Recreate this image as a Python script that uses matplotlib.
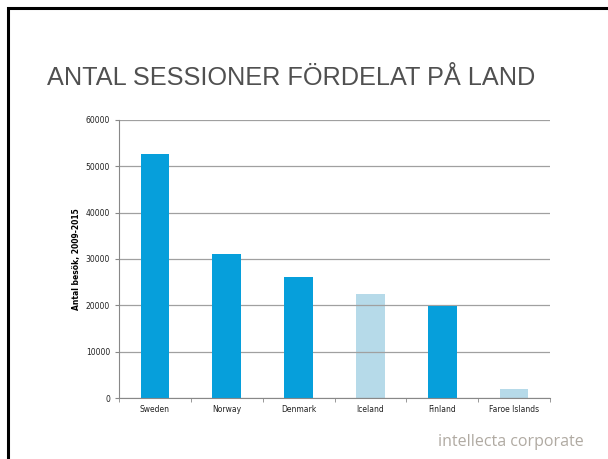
import matplotlib.pyplot as plt
import numpy as np
from matplotlib.patches import Rectangle

countries = ['Sweden', 'Norway', 'Denmark', 'Iceland', 'Finland', 'Faroe Islands']
sessions = [52600, 31000, 26100, 22500, 19900, 2000]
light = [False, False, False, True, False, True]

dark_blue = '#069fdb'
light_blue = '#a9d4e6'

fig = plt.figure(figsize=(6.08, 4.59), dpi=100)

# slide frame (right/bottom edges run off the picture)
fig.patches.append(Rectangle((8 / 608, -0.1), 1.2, (459 - 8) / 459 + 0.1,
                             transform=fig.transFigure, fill=False,
                             edgecolor='black', linewidth=2.2))

ax = fig.add_axes([119 / 608, 1 - 398 / 459, (550 - 119) / 608, (398 - 120) / 459])

x = np.arange(len(countries))
colors = [light_blue if l else dark_blue for l in light]
ax.set_axisbelow(True)
ax.yaxis.grid(True, color='#a0a0a0', linewidth=0.9)
bars = ax.bar(x, sessions, width=0.4, color=colors, zorder=2)
for b, l in zip(bars, light):
    if l:
        b.set_alpha(0.85)
        b.set_zorder(0.5)

ax.set_xlim(-0.5, len(countries) - 0.5)
ax.set_ylim(0, 60000)
ax.set_yticks(np.arange(0, 60001, 10000))
ax.set_xticks(x)
ax.set_xticklabels(countries, fontsize=5.5, color='#222222')
ax.set_xticks(np.arange(-0.5, len(countries)), minor=True)
ax.tick_params(axis='x', which='major', length=0, pad=5)
ax.tick_params(axis='x', which='minor', length=3, color='#888888', direction='out')
ax.tick_params(axis='y', labelsize=5.5, length=3, color='#888888', labelcolor='#222222')

for s in ['top', 'right']:
    ax.spines[s].set_visible(False)
ax.spines['left'].set_color('#888888')
ax.spines['bottom'].set_color('#888888')

ax.set_ylabel('Antal besök, 2009-2015', fontsize=5.5, fontweight='bold', labelpad=3)

fig.text(47 / 608, 1 - 78 / 459, 'ANTAL SESSIONER FÖRDELAT PÅ LAND',
         fontsize=18.2, color='#505050', va='center', ha='left', family='Liberation Sans')
fig.text(584 / 608, 1 - 442 / 459, 'intellecta corporate', fontsize=11.5,
         color='#b0aaa2', ha='right', va='center', family='Open Sans')

fig.savefig('out.png', dpi=100)
